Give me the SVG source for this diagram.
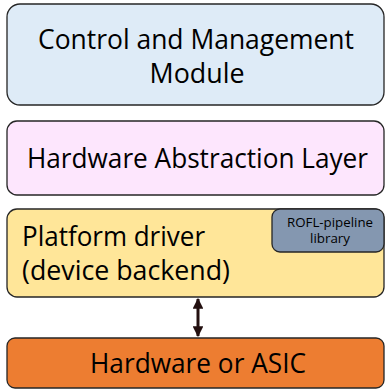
<svg xmlns="http://www.w3.org/2000/svg" width="386" height="389" viewBox="0 0 386 389">
<defs>
<style>
.box{stroke:#262626;stroke-width:1.3}
.t{font-family:"Open Sans","Liberation Sans",sans-serif;font-size:27px;fill:#000}
.s{font-family:"Open Sans","Liberation Sans",sans-serif;font-size:12px;fill:#000;text-anchor:middle}
.c{text-anchor:middle}
</style>
<marker id="ah" viewBox="0 0 10 10" refX="9" refY="5" markerWidth="3.6" markerHeight="3.6" orient="auto-start-reverse" markerUnits="strokeWidth">
<path d="M0,0 L10,5 L0,10 z" fill="#231010"/>
</marker>
</defs>
<rect width="386" height="389" fill="#fff"/>
<g id="cmm">
<rect class="box" x="7" y="4" width="377" height="101" rx="13" fill="#DEEBF7"/>
<text class="t c" x="196" y="49" textLength="316" lengthAdjust="spacingAndGlyphs">Control and Management</text>
<text class="t c" x="197" y="83" textLength="95" lengthAdjust="spacingAndGlyphs">Module</text>
</g>
<g id="hal">
<rect class="box" x="7" y="121" width="377" height="74" rx="10" fill="#FDE6FD"/>
<text class="t" x="27" y="168" textLength="341" lengthAdjust="spacingAndGlyphs">Hardware Abstraction Layer</text>
</g>
<g id="driver">
<rect class="box" x="7" y="209" width="377" height="88" rx="10" fill="#FFE699"/>
<text class="t" x="22" y="246" textLength="183" lengthAdjust="spacingAndGlyphs">Platform driver</text>
<text class="t" x="22" y="280" textLength="208" lengthAdjust="spacingAndGlyphs">(device backend)</text>
</g>
<g id="rofl">
<rect class="box" x="272" y="209" width="112" height="43" rx="8" fill="#8497B0"/>
<text class="s" x="330" y="227" textLength="86" lengthAdjust="spacingAndGlyphs">ROFL-pipeline</text>
<text class="s" x="330" y="243" textLength="40" lengthAdjust="spacingAndGlyphs">library</text>
</g>
<g id="hw">
<rect class="box" x="7" y="338" width="377" height="50" rx="8" fill="#ED7D31"/>
<text class="t" x="90" y="373" textLength="216" lengthAdjust="spacingAndGlyphs">Hardware or ASIC</text>
</g>
<g id="connectors">
<line x1="198" y1="299" x2="198" y2="336" stroke="#231010" stroke-width="3" marker-start="url(#ah)" marker-end="url(#ah)"/>
</g>
</svg>
